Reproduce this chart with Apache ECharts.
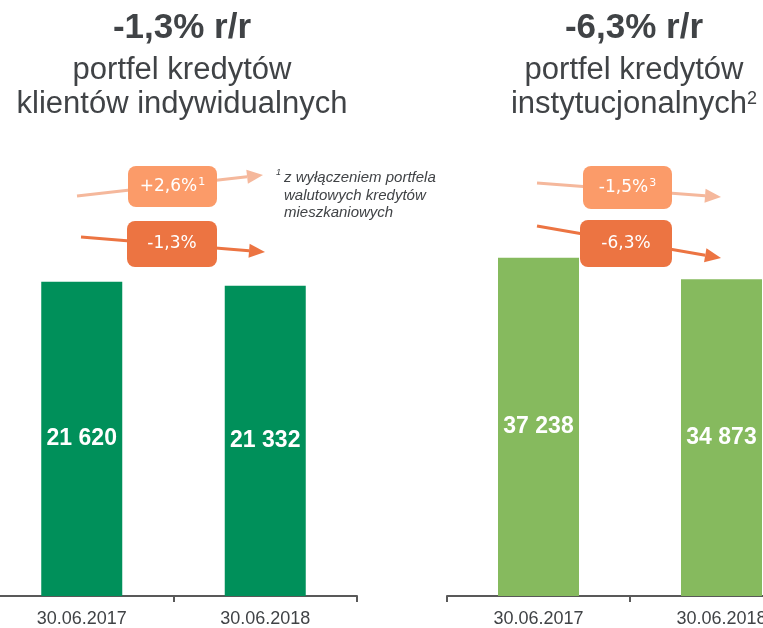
<!DOCTYPE html>
<html>
<head>
<meta charset="utf-8">
<script src="https://cdn.jsdelivr.net/npm/echarts@6/dist/echarts.min.js"></script>
<style>
html,body{margin:0;padding:0;background:#fff;overflow:hidden;width:763px;height:628px;position:relative;}
#chart{position:absolute;left:-20px;top:0;width:860px;height:628px;}
</style>
</head>
<body>
<div id="chart"></div>
<script>
const categories = ['30.06.2017', '30.06.2018'];
const indywidualni = [21620, 21332];
const instytucjonalni = [37238, 34873];
const headlines = ['-1,3% r/r', '-6,3% r/r'];
const changeLabels = ['+2,6%', '-1,3%', '-1,5%', '-6,3%'];
const changeSups = ['1', '', '3', ''];
const footnote = ['z wyłączeniem portfela', 'walutowych kredytów', 'mieszkaniowych'];

const OX = 20; // chart container is offset 20px to the left of the page
const TEXT = '#404346';
const FONT = '"Liberation Sans", Arial, sans-serif';
const DARK_GREEN = '#00905A';
const LIGHT_GREEN = '#86BA5E';
const ORANGE_LIGHT = '#FB9B69';
const ORANGE_DARK = '#EC7442';
const ARROW_LIGHT = '#F5B89C';
const ARROW_DARK = '#EC7442';

function fmt(v) { return String(v).replace(/\B(?=(\d{3})+(?!\d))/g, ' '); }

function arrow(x1, y1, x2, y2, color) {
  x1 += OX; x2 += OX;
  const dx = x2 - x1, dy = y2 - y1, L = Math.sqrt(dx * dx + dy * dy);
  const ux = dx / L, uy = dy / L, px = -uy, py = ux;
  const hl = 16, hw = 7;
  const bx = x2 - ux * hl, by = y2 - uy * hl;
  return [
    { type: 'line', z: 10, shape: { x1: x1, y1: y1, x2: bx, y2: by }, style: { stroke: color, lineWidth: 3 } },
    { type: 'polygon', z: 10, shape: { points: [[x2, y2], [bx + px * hw, by + py * hw], [bx - px * hw, by - py * hw]] }, style: { fill: color } }
  ];
}
function box(x, y, w, h, color, label, sup) {
  x += OX;
  return [
    { type: 'rect', z: 20, shape: { x: x, y: y, width: w, height: h, r: 8 }, style: { fill: color } },
    { type: 'text', z: 21, x: x + w / 2, y: y + h / 2,
      style: { text: '{m|' + label + '}' + (sup ? '{s|' + sup + '}' : ''), align: 'center', verticalAlign: 'middle',
        rich: { m: { fill: '#fff', fontSize: 17, fontFamily: '"DejaVu Sans", sans-serif' },
                s: { fill: '#fff', fontSize: 11, fontFamily: '"DejaVu Sans", sans-serif', verticalAlign: 'top', padding: [0, 0, 8, 1] } } } }
  ];
}
function title(cx, head, line2, line3, sup) {
  cx += OX;
  return [
    { type: 'text', x: cx, y: 28, style: { text: head, align: 'center', verticalAlign: 'middle', fill: TEXT, fontFamily: FONT, fontWeight: 'bold', fontSize: 35 } },
    { type: 'text', x: cx, y: 70, style: { text: line2, align: 'center', verticalAlign: 'middle', fill: TEXT, fontFamily: FONT, fontSize: 31 } },
    { type: 'text', x: cx, y: 104, style: { text: '{m|' + line3 + '}' + (sup ? '{s|' + sup + '}' : ''), align: 'center', verticalAlign: 'middle',
      rich: { m: { fill: TEXT, fontFamily: FONT, fontSize: 31 }, s: { fill: TEXT, fontFamily: FONT, fontSize: 18, padding: [0, 0, 10, 0] } } } }
  ];
}

const graphics = [].concat(
  title(182, headlines[0], 'portfel kredytów', 'klientów indywidualnych', ''),
  title(634, headlines[1], 'portfel kredytów', 'instytucjonalnych', '2'),
  arrow(77, 196, 263, 175, ARROW_LIGHT),
  arrow(81, 237, 265, 252, ARROW_DARK),
  arrow(537, 183, 721, 197, ARROW_LIGHT),
  arrow(537, 226, 721, 258, ARROW_DARK),
  box(128, 166, 89, 41, ORANGE_LIGHT, changeLabels[0], changeSups[0]),
  box(127, 221, 90, 46, ORANGE_DARK, changeLabels[1], changeSups[1]),
  box(583, 166, 89, 43, ORANGE_LIGHT, changeLabels[2], changeSups[2]),
  box(580, 220, 92, 47, ORANGE_DARK, changeLabels[3], changeSups[3]),
  [
    { type: 'text', x: 276 + OX, y: 172, style: { text: '1', fill: TEXT, fontFamily: FONT, fontStyle: 'italic', fontSize: 9, verticalAlign: 'middle' } },
    { type: 'text', x: 284 + OX, y: 178, style: { text: footnote[0], fill: TEXT, fontFamily: FONT, fontStyle: 'italic', fontSize: 15, verticalAlign: 'middle' } },
    { type: 'text', x: 284 + OX, y: 196, style: { text: footnote[1], fill: TEXT, fontFamily: FONT, fontStyle: 'italic', fontSize: 15, verticalAlign: 'middle' } },
    { type: 'text', x: 284 + OX, y: 213, style: { text: footnote[2], fill: TEXT, fontFamily: FONT, fontStyle: 'italic', fontSize: 15, verticalAlign: 'middle' } }
  ]
);

const axisCommon = {
  type: 'category', data: categories,
  axisLine: { lineStyle: { color: '#595959', width: 2 } },
  axisTick: { show: true, length: 6, lineStyle: { color: '#595959', width: 2 } },
  axisLabel: { color: TEXT, fontFamily: FONT, fontSize: 18, margin: 14 }
};
const labelCommon = { show: true, position: 'inside', color: '#fff', fontFamily: FONT, fontWeight: 'bold', fontSize: 23, formatter: p => fmt(p.value) };

const chart = echarts.init(document.getElementById('chart'), null, { renderer: 'canvas' });
chart.setOption({
  animation: false,
  backgroundColor: '#fff',
  grid: [
    { left: -10 + OX, width: 367, top: 140, bottom: 31 },
    { left: 447 + OX, width: 366, top: 140, bottom: 31 }
  ],
  xAxis: [
    Object.assign({ gridIndex: 0 }, axisCommon),
    Object.assign({ gridIndex: 1 }, axisCommon)
  ],
  yAxis: [
    { gridIndex: 0, type: 'value', min: 0, max: 31366, show: false, splitLine: { show: false } },
    { gridIndex: 1, type: 'value', min: 0, max: 50200, show: false, splitLine: { show: false } }
  ],
  series: [
    { type: 'bar', xAxisIndex: 0, yAxisIndex: 0, data: indywidualni, barWidth: 81, itemStyle: { color: DARK_GREEN }, label: labelCommon },
    { type: 'bar', xAxisIndex: 1, yAxisIndex: 1, data: instytucjonalni, barWidth: 81, itemStyle: { color: LIGHT_GREEN }, label: labelCommon }
  ],
  graphic: graphics
});
</script>
</body>
</html>
